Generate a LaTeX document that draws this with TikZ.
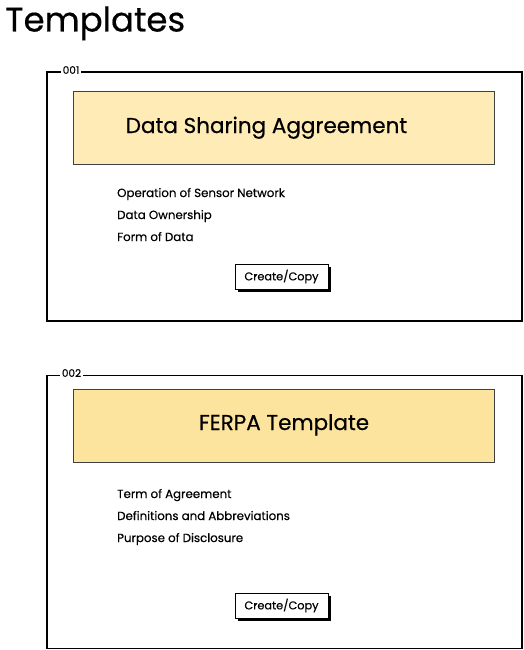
\documentclass[tikz,border=0pt]{standalone}
\usepackage{fontspec}
\setmainfont{Poppins}[UprightFeatures={FakeBold=0.5}]
\usepackage{tikz}
\usetikzlibrary{shadows}
\definecolor{headlight}{HTML}{FEEBB5}
\definecolor{headdark}{HTML}{FDE49E}

\begin{document}
\begin{tikzpicture}[x=1pt, y=-1pt,
    panel/.style={draw=black, line width=1.6pt, minimum width=475pt, anchor=north west, inner sep=0pt},
    tag/.style={fill=white, inner sep=1.5pt, font=\fontsize{10.5}{12}\selectfont},
    header/.style={draw=black!75, line width=1.3pt, minimum width=421pt, minimum height=73pt, anchor=north west, inner sep=0pt},
    headtext/.style={anchor=base, inner sep=0pt, font=\fontsize{21.5}{25}\selectfont},
    item/.style={anchor=base west, inner sep=0pt, font=\fontsize{11.8}{14}\selectfont},
    button/.style={draw=black, line width=1pt, fill=white, minimum width=93pt, minimum height=25pt, inner sep=0pt,
      font=\fontsize{11.3}{13}\selectfont, drop shadow={shadow xshift=3pt, shadow yshift=-3pt, fill=black, opacity=1}}]
    \useasboundingbox (0,0) rectangle (523,650);
    \node[anchor=base west, inner sep=0pt, font=\fontsize{34}{40}\selectfont\addfontfeature{FakeBold=1.2}] (title) at (5,31.5) {Templates};

    % 001
    \node[panel, minimum height=249pt] (panelA) at (46,71) {};
    \node[tag] (tagA) at (71,70) {001};
    \node[header, fill=headlight] (headA) at (73,91) {};
    \node[headtext] (headAtext) at (266.5,133) {Data Sharing Aggreement};
    \node[item] (itemAa) at (117,197) {Operation of Sensor Network};
    \node[item] (itemAb) at (117,219) {Data Ownership};
    \node[item] (itemAc) at (117,241) {Form of Data};
    \node[button] (copyA) at (281.5,276.5) {Create/Copy};

    % 002
    \node[panel, minimum height=273pt] (panelB) at (46,374.5) {};
    \node[tag] (tagB) at (71.5,373) {002};
    \node[header, fill=headdark] (headB) at (73,389) {};
    \node[headtext] (headBtext) at (284,430) {FERPA Template};
    \node[item] (itemBa) at (117,498) {Term of Agreement};
    \node[item] (itemBb) at (117,520) {Definitions and Abbreviations};
    \node[item] (itemBc) at (117,542) {Purpose of Disclosure};
    \node[button] (copyB) at (281.5,605.5) {Create/Copy};
\end{tikzpicture}
\end{document}
